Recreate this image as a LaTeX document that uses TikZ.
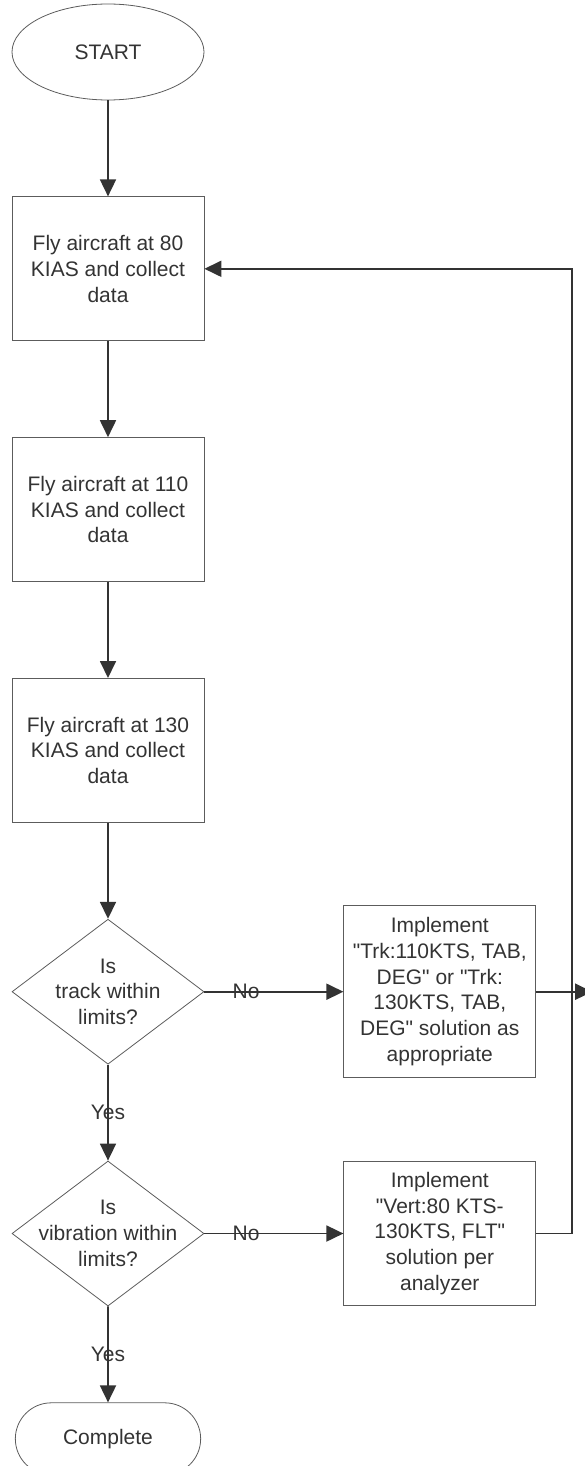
\documentclass[tikz,border=0pt]{standalone}
\usepackage{fontspec}
\setmainfont{Liberation Sans}[Ligatures=TeXOff]
\usepackage{tikz}
\usetikzlibrary{arrows.meta,chains,positioning,shapes.geometric,shapes.misc}
\definecolor{ink}{HTML}{333333}
\definecolor{rim}{HTML}{5C5C5C}

\begin{document}
\begin{tikzpicture}[
x=1pt, y=1pt,
node distance=96pt,
 start chain = M going below,
 font=\fontsize{21}{25.7}\selectfont,
 every node/.style = {text=ink},
   term/.style = {ellipse, draw=rim, line width=0.8pt,% start of the run
                  minimum width=192pt, minimum height=96pt, on chain},
    act/.style = {rectangle, draw=rim, line width=0.8pt,% steps and fixes
                  minimum width=192pt, minimum height=144pt,
                  align=center, inner sep=2pt},
    ask/.style = {diamond, draw=rim, line width=0.8pt,% checks
                  minimum width=192pt, minimum height=145pt,
                  inner sep=0pt, on chain},
 finish/.style = {rounded rectangle, draw=rim, line width=0.8pt,
                  minimum width=192pt, minimum height=72pt, on chain},
   flow/.style = {draw=ink, line width=1.8pt,
                  -{Triangle[length=17pt,width=16pt]}},
   cond/.style = {pos=.3, inner sep=0pt},
                        ]
\useasboundingbox (0,0) rectangle (584,-1466);
\node[term] (start) at (108,-52) {START};
\node[act, on chain] (fly80) {Fly aircraft at 80\\KIAS and collect\\data};
\foreach \v in {110,130}% <-- speeds of the later runs
    \node[act, on chain] (fly\v) {Fly aircraft at \v\\KIAS and collect\\data};
\node[ask, label={[align=center]center:Is\\track within\\limits?}] (track) {};
\node[ask, label={[align=center]center:Is\\vibration within\\limits?}] (vib) {};
\node[finish] (done) {Complete};

\node[act, minimum height=172pt, right=139pt of track] (trk)
    {Implement\\"Trk:110KTS, TAB,\\DEG" or "Trk:\\130KTS, TAB,\\DEG" solution as\\appropriate};
\node[act, right=139pt of vib] (vert)
    {Implement\\"Vert:80 KTS-\\130KTS, FLT"\\solution per\\analyzer};

\foreach \a/\b in {start/fly80,fly80/fly110,fly110/fly130,fly130/track}
    \draw[flow] (\a) -- (\b);
\draw[flow] (track) -- node[inner sep=0pt]{Yes} (vib);
\draw[flow] (vib) -- node[inner sep=0pt]{Yes} (done);
\draw[flow] (track) -- node[cond]{No} (trk);
\draw[flow] (vib) -- node[cond]{No} (vert);
\coordinate (rail) at ([xshift=36pt]vert.east);
\coordinate (exit) at ([xshift=56pt]trk.east);
\draw[flow] (trk.east) -- (exit);
\draw[flow] (vert.east) -- (rail) |- (fly80.east);
\end{tikzpicture}
\end{document}
